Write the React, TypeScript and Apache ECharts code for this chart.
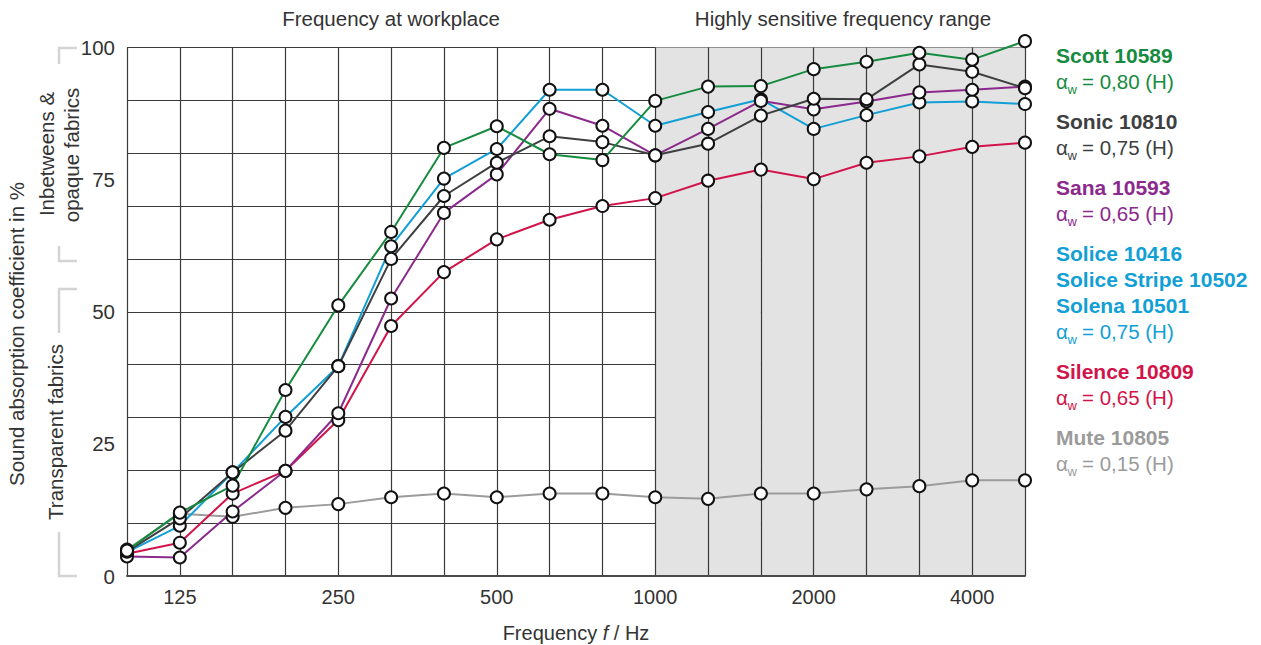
import React, { useEffect, useRef } from 'react';
import * as echarts from 'echarts';

// Third-octave band centre frequencies (Hz)
const frequencies = ['100', '125', '160', '200', '250', '315', '400', '500', '630', '800', '1000', '1250', '1600', '2000', '2500', '3150', '4000', '5000'];
const labelledFrequencies = ['125', '250', '500', '1000', '2000', '4000'];
const sensitiveFrom = '1000';

// Sound absorption coefficient in %
const scott = [4.8, 12.0, 17.1, 35.2, 51.2, 65.1, 81.0, 85.1, 79.8, 78.7, 89.9, 92.6, 92.7, 95.9, 97.3, 99.0, 97.7, 101.2];
const sonic = [4.6, 10.9, 19.6, 27.5, 39.7, 60.0, 71.9, 78.2, 83.2, 82.1, 79.6, 81.8, 87.1, 90.3, 90.2, 96.8, 95.4, 92.3];
const sana = [3.7, 3.5, 12.2, 19.9, 30.8, 52.5, 68.7, 76.0, 88.4, 85.2, 79.6, 84.6, 89.9, 88.3, 89.8, 91.5, 92.0, 92.6];
const solice = [4.5, 9.5, 19.6, 30.1, 39.7, 62.4, 75.2, 80.8, 92.0, 92.0, 85.2, 87.8, 90.2, 84.6, 87.2, 89.6, 89.8, 89.3];
const silence = [4.2, 6.3, 15.6, 19.9, 29.5, 47.3, 57.5, 63.7, 67.4, 70.0, 71.5, 74.8, 76.9, 75.1, 78.2, 79.4, 81.2, 82.0];
const mute = [5.0, 11.8, 11.2, 12.9, 13.6, 14.9, 15.6, 14.9, 15.6, 15.6, 14.9, 14.6, 15.6, 15.6, 16.4, 17.0, 18.1, 18.1];

const legendNames = [
  ['Scott 10589'],
  ['Sonic 10810'],
  ['Sana 10593'],
  ['Solice 10416', 'Solice Stripe 10502', 'Solena 10501'],
  ['Silence 10809'],
  ['Mute 10805'],
];
const legendAlpha = ['0,80', '0,75', '0,65', '0,75', '0,65', '0,15'];

const topTitles = ['Frequency at workplace', 'Highly sensitive frequency range'];
const yTitle = 'Sound absorption coefficient in %';
const groupUpper = ['Inbetweens &', 'opaque fabrics'];
const groupLower = 'Transparent fabrics';

const COLORS = ['#168b3f', '#3d3f41', '#8b2a8c', '#119fd6', '#d1144a', '#9b9b9b'];
const FONT = '"Liberation Sans", Arial, Helvetica, sans-serif';
const TEXT = '#333';

export default function App() {
  const ref = useRef<HTMLDivElement>(null);

  useEffect(() => {
    document.body.style.margin = '0';
    document.body.style.overflow = 'hidden';
    const chart = echarts.init(ref.current as HTMLDivElement, null, { renderer: 'svg', width: 1261, height: 645 });
    const seriesData = [scott, sonic, sana, solice, silence, mute];
    const names = ['Scott 10589', 'Sonic 10810', 'Sana 10593', 'Solice 10416', 'Silence 10809', 'Mute 10805'];
    const drawOrder = [5, 4, 3, 2, 1, 0];

    const startIdx = frequencies.indexOf(sensitiveFrom);
    const areaColors = frequencies.slice(1).map((_, i) => (i >= startIdx ? '#e3e3e3' : 'rgba(255,255,255,0)'));

    const lineSeries: any[] = drawOrder.map((k) => ({
      type: 'line',
      name: names[k],
      data: seriesData[k],
      showSymbol: false,
      symbol: 'none',
      clip: false,
      z: 3,
      lineStyle: { color: COLORS[k], width: 2 },
      itemStyle: { color: COLORS[k] },
    }));
    const markerSeries: any[] = drawOrder.map((k) => ({
      type: 'scatter',
      name: names[k] + ' points',
      data: seriesData[k],
      symbol: 'circle',
      symbolSize: 12,
      clip: false,
      z: 5,
      itemStyle: { color: '#ffffff', borderColor: '#111111', borderWidth: 2, opacity: 1 },
    }));

    const F = `20.5px ${FONT}`;
    const graphics: any[] = [];
    graphics.push({
      type: 'text', x: 391, y: 18,
      style: { text: topTitles[0], font: F, fill: TEXT, align: 'center', verticalAlign: 'middle' },
    });
    graphics.push({
      type: 'text', x: 843, y: 18,
      style: { text: topTitles[1], font: F, fill: TEXT, align: 'center', verticalAlign: 'middle' },
    });
    graphics.push({
      type: 'text', x: 16, y: 334, rotation: Math.PI / 2,
      style: { text: yTitle, font: F, fill: TEXT, align: 'center', verticalAlign: 'middle' },
    });
    graphics.push({
      type: 'text', x: 46, y: 154, rotation: Math.PI / 2,
      style: { text: groupUpper[0], font: F, fill: TEXT, align: 'center', verticalAlign: 'middle' },
    });
    graphics.push({
      type: 'text', x: 71, y: 155, rotation: Math.PI / 2,
      style: { text: groupUpper[1], font: F, fill: TEXT, align: 'center', verticalAlign: 'middle' },
    });
    graphics.push({
      type: 'text', x: 55, y: 432, rotation: Math.PI / 2,
      style: { text: groupLower, font: F, fill: TEXT, align: 'center', verticalAlign: 'middle' },
    });
    const bracketStyle = { stroke: '#d4d4d4', lineWidth: 2.5, fill: 'none' };
    const brackets = [
      [[77, 48], [59, 48], [59, 64]],
      [[59, 246], [59, 261], [77, 261]],
      [[77, 289], [59, 289], [59, 333]],
      [[59, 532], [59, 576], [77, 576]],
    ];
    brackets.forEach((pts) => graphics.push({ type: 'polyline', shape: { points: pts }, style: bracketStyle }));

    // Legend on the right
    let baseline = 62.3;
    const lx = 1056;
    legendNames.forEach((group, gi) => {
      group.forEach((nm) => {
        graphics.push({
          type: 'text', x: lx, y: baseline - 7,
          style: { text: nm, font: `bold 21px ${FONT}`, fill: COLORS[gi], align: 'left', verticalAlign: 'middle' },
        });
        baseline += 26;
      });
      graphics.push({
        type: 'text', x: lx, y: baseline - 7,
        style: { text: 'α', font: F, fill: COLORS[gi], align: 'left', verticalAlign: 'middle' },
      });
      graphics.push({
        type: 'text', x: lx + 11.5, y: baseline + 1.5,
        style: { text: 'w', font: `13px ${FONT}`, fill: COLORS[gi], align: 'left', verticalAlign: 'middle' },
      });
      graphics.push({
        type: 'text', x: lx + 26, y: baseline - 7,
        style: { text: '= ' + legendAlpha[gi] + ' (H)', font: F, fill: COLORS[gi], align: 'left', verticalAlign: 'middle' },
      });
      baseline += 40;
    });

    const option: any = {
      animation: false,
      backgroundColor: '#ffffff',
      grid: { left: 127, right: 236, top: 47.5, bottom: 69, containLabel: false, outerBoundsMode: 'none' },
      xAxis: {
        type: 'category',
        data: frequencies,
        boundaryGap: false,
        axisLine: { show: true, lineStyle: { color: '#4a4a4a', width: 2 } },
        axisTick: { show: false },
        axisLabel: {
          interval: (idx: number, val: string) => labelledFrequencies.includes(val),
          fontSize: 20,
          fontFamily: FONT,
          color: TEXT,
          margin: 11,
        },
        splitLine: { show: true, interval: 0, lineStyle: { color: '#3a3a3a', width: 1.2 } },
        splitArea: { show: true, interval: 0, areaStyle: { color: areaColors } },
        name: '{n|Frequency }{i|f}{n| / Hz}',
        nameLocation: 'middle',
        nameGap: 47,
        nameTextStyle: {
          rich: {
            n: { fontSize: 20, fontFamily: FONT, color: TEXT },
            i: { fontSize: 20, fontFamily: FONT, color: TEXT, fontStyle: 'italic' },
          },
        },
      },
      yAxis: [
        {
          type: 'value', min: 0, max: 100, interval: 10,
          axisLine: { show: false }, axisTick: { show: false }, axisLabel: { show: false },
          splitLine: { show: true, lineStyle: { color: '#3a3a3a', width: 1.2 } },
        },
        {
          type: 'value', min: 0, max: 100, interval: 25, position: 'left',
          axisLine: { show: false }, axisTick: { show: false },
          axisLabel: { fontSize: 20.5, fontFamily: FONT, color: TEXT, margin: 12 },
          splitLine: { show: false },
        },
      ],
      series: [...lineSeries, ...markerSeries],
      graphic: graphics,
    };
    chart.setOption(option);
    return () => chart.dispose();
  }, []);

  return <div ref={ref} style={{ position: 'absolute', left: 0, top: 0, width: 1261, height: 645 }} />;
}
